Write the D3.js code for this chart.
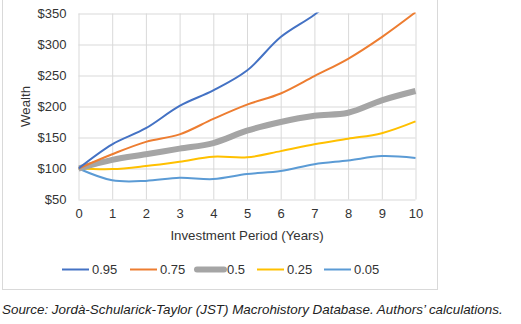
<!DOCTYPE html>
<html>
<head>
<meta charset="utf-8">
<script src="https://cdn.jsdelivr.net/npm/d3@7"></script>
<style>
  body { margin: 0; background: #fff; }
  svg { display: block; font-family: "Liberation Sans", Arial, sans-serif; }
</style>
</head>
<body>
<svg id="chart" width="521" height="324"></svg>
<script>
// wealth paths of $100 by percentile, years 0-10
var years = [0, 1, 2, 3, 4, 5, 6, 7, 8, 9, 10];
var p95 = [100, 139, 165, 201, 226, 258, 312, 348, 392, 440, 495];
var p75 = [100, 123, 143, 155, 180, 203, 221, 249, 277, 312, 352];
var p50 = [100, 114, 123, 132, 141, 161, 175, 185, 190, 210, 225];
var p25 = [100, 99, 104, 111, 119, 118, 128, 139, 148, 157, 176];
var p05 = [100, 81, 80, 85, 83, 91, 96, 107, 113, 120, 117];
var seriesNames = ["0.95", "0.75", "0.5", "0.25", "0.05"];
var yTicks = [50, 100, 150, 200, 250, 300, 350];

var series = [
  { name: seriesNames[0], values: p95, color: "#4472C4", width: 2 },
  { name: seriesNames[1], values: p75, color: "#ED7D31", width: 2 },
  { name: seriesNames[2], values: p50, color: "#A5A5A5", width: 6 },
  { name: seriesNames[3], values: p25, color: "#FFC000", width: 2 },
  { name: seriesNames[4], values: p05, color: "#5B9BD5", width: 2 }
];

var svg = d3.select("#chart");
var plotLeft = 78.5, plotRight = 415.5, plotTop = 13.5, plotBottom = 199.5;

var x = d3.scaleLinear().domain([0, 10]).range([plotLeft, plotRight]);
var y = d3.scaleLinear().domain([50, 350]).range([plotBottom, plotTop]);

// outer chart frame
svg.append("rect")
  .attr("x", 2.5).attr("y", -2)
  .attr("width", 435).attr("height", 291.5)
  .attr("fill", "none").attr("stroke", "#d9d9d9");

// horizontal gridlines + dollar labels
var yAxis = svg.append("g")
  .attr("transform", "translate(" + plotLeft + ",0)")
  .call(d3.axisLeft(y).tickValues(yTicks)
    .tickSize(-(plotRight - plotLeft)).tickPadding(12)
    .tickFormat(function(d) { return "$" + d; }));
yAxis.select(".domain").remove();

// vertical gridlines + year labels
var xAxis = svg.append("g")
  .attr("transform", "translate(0," + plotBottom + ")")
  .call(d3.axisBottom(x).tickValues(years)
    .tickSize(-(plotBottom - plotTop)).tickPadding(9)
    .tickFormat(d3.format("d")));
xAxis.select(".domain").remove();

svg.selectAll(".tick line").attr("stroke", "#d9d9d9").attr("stroke-width", 1);
svg.selectAll(".tick text")
  .attr("fill", "#333").style("font-size", "13px")
  .style("font-family", "'Liberation Sans', Arial, sans-serif");

// axis titles
svg.append("text")
  .attr("x", (plotLeft + plotRight) / 2).attr("y", 240)
  .attr("text-anchor", "middle").attr("fill", "#333")
  .style("font-size", "13.3px")
  .text("Investment Period (Years)");

svg.append("text")
  .attr("transform", "translate(30," + ((plotTop + plotBottom) / 2) + ") rotate(-90)")
  .attr("text-anchor", "middle").attr("fill", "#333")
  .style("font-size", "13.3px")
  .text("Wealth");

// lines, clipped to the plot box
svg.append("clipPath").attr("id", "plot-clip")
  .append("rect")
  .attr("x", plotLeft).attr("y", plotTop - 1)
  .attr("width", plotRight - plotLeft + 4).attr("height", plotBottom - plotTop + 2);

var line = d3.line()
  .x(function(d, i) { return x(years[i]); })
  .y(function(d) { return y(d); })
  .curve(d3.curveCatmullRom.alpha(0.5));

svg.append("g").attr("clip-path", "url(#plot-clip)")
  .selectAll("path")
  .data(series.slice().reverse())
  .enter()
  .append("path")
  .attr("d", function(s) { return line(s.values); })
  .attr("fill", "none")
  .attr("stroke", function(s) { return s.color; })
  .attr("stroke-width", function(s) { return s.width; })
  .attr("stroke-linejoin", "round");

// legend
var legendX = [62, 130, 197, 257, 324];
var legend = svg.selectAll(".legend")
  .data(series)
  .enter()
  .append("g")
  .attr("class", "legend")
  .attr("transform", function(s, i) { return "translate(" + legendX[i] + ",269.5)"; });

legend.append("line")
  .attr("x1", 0).attr("x2", 27)
  .attr("stroke", function(s) { return s.color; })
  .attr("stroke-width", function(s) { return s.width; })
  .attr("stroke-linecap", function(s) { return s.width > 3 ? "round" : "butt"; });

legend.append("text")
  .attr("x", 30).attr("dy", "0.35em")
  .attr("fill", "#333").style("font-size", "13px")
  .text(function(s) { return s.name; });

// source note
svg.append("text")
  .attr("x", 2).attr("y", 314)
  .attr("fill", "#222")
  .style("font-size", "13.4px").style("font-style", "italic")
  .text("Source: Jordà-Schularick-Taylor (JST) Macrohistory Database. Authors’ calculations.");
</script>
</body>
</html>
